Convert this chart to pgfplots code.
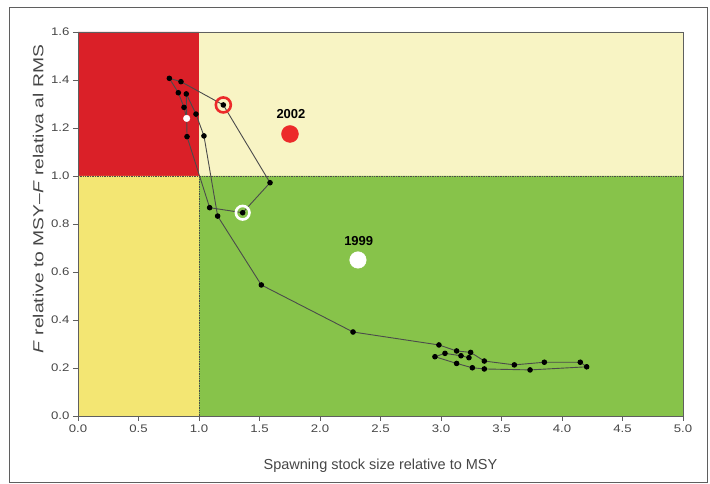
\documentclass[border=0pt]{standalone}
\usepackage{pgfplots}
\pgfplotsset{compat=1.18}
\usepackage{fontspec}
\setmainfont{Liberation Sans}

\definecolor{zonered}{RGB}{218,32,40}
\definecolor{zonecream}{RGB}{248,244,196}
\definecolor{zoneyellow}{RGB}{243,230,115}
\definecolor{zonegreen}{RGB}{135,195,74}
\definecolor{dotred}{RGB}{236,42,42}
\definecolor{framegray}{RGB}{95,95,95}
\definecolor{textgray}{RGB}{70,70,70}
\definecolor{pathgray}{RGB}{75,75,75}

\begin{document}
\begin{tikzpicture}
\useasboundingbox (0,0) rectangle (710pt,484pt);
\draw[framegray, line width=0.8pt] (9.5pt,1.5pt) rectangle (707.5pt,476.5pt);
\begin{axis}[
  at={(78pt,68pt)}, anchor=south west,
  width=605pt, height=384pt, scale only axis,
  xmin=0, xmax=5, ymin=0, ymax=1.6,
  xtick={0,0.5,...,5}, ytick={0,0.2,...,1.6},
  xticklabel={\scalebox{1.2}[1]{\pgfmathprintnumber[fixed, fixed zerofill, precision=1]{\tick}}},
  yticklabel={\scalebox{1.2}[1]{\pgfmathprintnumber[fixed, fixed zerofill, precision=1]{\tick}}},
  /pgf/number format/assume math mode=true,
  tick label style={font=\fontsize{11}{13}\selectfont, text=textgray},
  tick align=outside, tick pos=left,
  major tick length=5pt,
  every tick/.style={framegray, line width=0.6pt},
  axis line style={framegray, line width=0.8pt},
  axis on top,
  xlabel={Spawning stock size relative to MSY},
  ylabel={\scalebox{1.33}[1]{\textit{F} relative to MSY–\textit{F} relativa al RMS}},
  label style={font=\fontsize{14.5}{17}\selectfont, text=textgray},
  xlabel style={at={(axis description cs:0.5,-0.13)}, anchor=center},
  ylabel style={at={(axis description cs:-0.066,0.565)}, anchor=center},
  clip=true,
]
% reference zones
\addplot[draw=none, fill=zonered]    coordinates {(0,1) (1,1) (1,1.6) (0,1.6) (0,1)};
\addplot[draw=none, fill=zonecream]  coordinates {(1,1) (5,1) (5,1.6) (1,1.6) (1,1)};
\addplot[draw=none, fill=zoneyellow] coordinates {(0,0) (1,0) (1,1) (0,1) (0,0)};
\addplot[draw=none, fill=zonegreen]  coordinates {(1,0) (5,0) (5,1) (1,1) (1,0)};
\addplot[densely dotted, pathgray, line width=0.7pt] coordinates {(0,1) (5,1)};
\addplot[densely dotted, pathgray, line width=0.7pt] coordinates {(1,0) (1,1)};

% stock trajectory
\addplot[pathgray, line width=0.9pt, mark=*, mark size=2.3pt,
  mark options={fill=black, draw=black}] coordinates {
  (3.231,0.243) (3.165,0.251) (3.033,0.261) (2.950,0.247) (3.129,0.219)
  (3.259,0.201) (3.358,0.196) (3.736,0.192) (4.204,0.205) (4.151,0.224)
  (3.854,0.224) (3.606,0.213) (3.358,0.229) (3.245,0.265) (3.129,0.271)
  (2.983,0.296) (2.273,0.350) (1.515,0.546) (1.154,0.833) (1.041,1.167)
  (0.975,1.258) (0.895,1.342) (0.901,1.164) (1.088,0.868) (1.361,0.847)
  (1.587,0.972) (1.201,1.296) (0.851,1.393) (0.755,1.407) (0.829,1.347)
  (0.876,1.286) (0.898,1.240)
};
% latest point
\addplot[only marks, mark=*, mark size=3.3pt, mark options={fill=white, draw=white}]
  coordinates {(0.898,1.240)};
% highlighted years
\addplot[only marks, mark=o, mark size=7.5pt, mark options={draw=dotred, line width=2.6pt}]
  coordinates {(1.201,1.296)};
\addplot[only marks, mark=o, mark size=6.8pt, mark options={draw=white, line width=2.6pt}]
  coordinates {(1.361,0.847)};
% key dots
\addplot[only marks, mark=*, mark size=8.5pt, mark options={fill=dotred, draw=dotred}]
  coordinates {(1.752,1.175)};
\addplot[only marks, mark=*, mark size=8.3pt, mark options={fill=white, draw=white}]
  coordinates {(2.314,0.650)};
\node[font=\bfseries\fontsize{13}{15}\selectfont] at (axis cs:1.76,1.258) {2002};
\node[font=\bfseries\fontsize{13}{15}\selectfont] at (axis cs:2.32,0.729) {1999};
\end{axis}
\end{tikzpicture}
\end{document}
